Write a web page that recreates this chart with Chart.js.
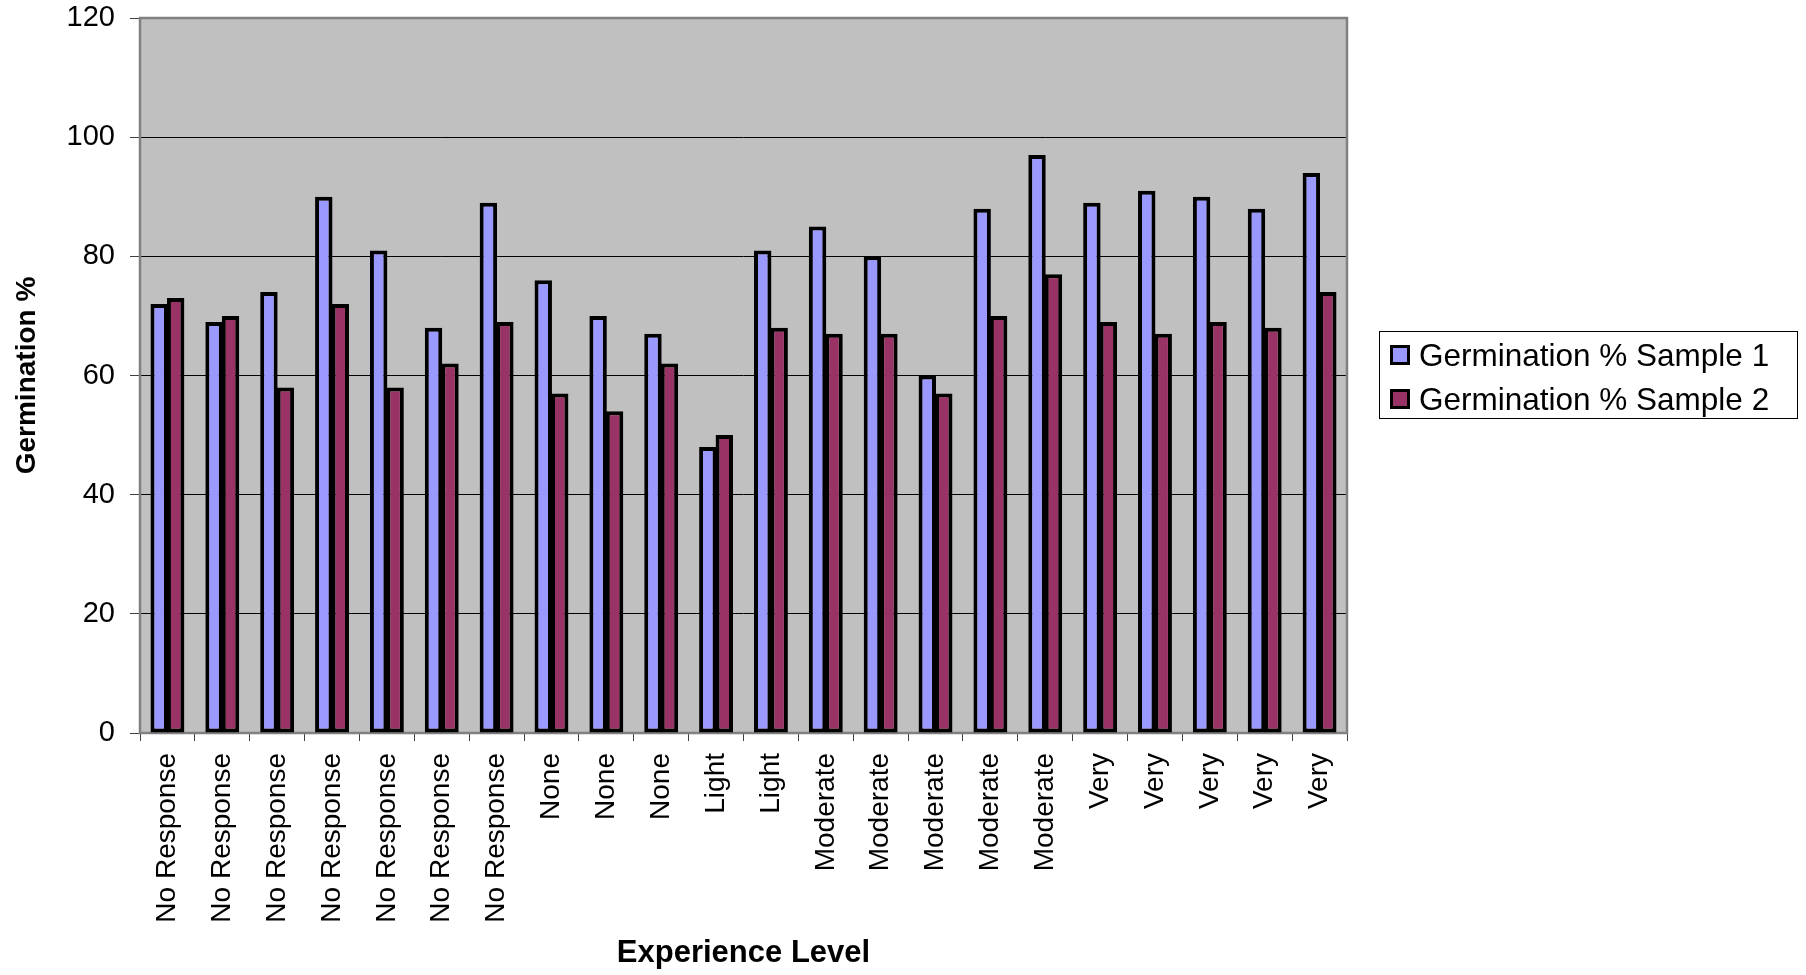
<!DOCTYPE html>
<html>
<head>
<meta charset="utf-8">
<script src="https://cdn.jsdelivr.net/npm/chart.js@4.4.1/dist/chart.umd.min.js"></script>
<style>
html,body{margin:0;padding:0;background:#fff;}
#wrap{position:relative;width:1806px;height:975px;}
#legend{position:absolute;left:1379px;top:331px;width:419px;height:88px;box-sizing:border-box;border:1px solid #000;background:#fff;font-family:"Liberation Sans",Arial,sans-serif;font-size:31.5px;color:#000;}
.row{position:absolute;left:10px;height:44px;display:flex;align-items:center;white-space:nowrap;}
.sw{width:14px;height:14px;border:3px solid #000;margin-right:9px;flex:none;}
</style>
</head>
<body>
<div id="wrap">
<canvas id="c" width="1806" height="975"></canvas>
<div id="legend"></div>
</div>
<script>
const categories = [
  'No Response','No Response','No Response','No Response','No Response','No Response','No Response',
  'None','None','None',
  'Light','Light',
  'Moderate','Moderate','Moderate','Moderate','Moderate',
  'Very','Very','Very','Very','Very'
];
const sample1 = [72, 69, 74, 90, 81, 68, 89, 76, 70, 67, 48, 81, 85, 80, 60, 88, 97, 89, 91, 90, 88, 94];
const sample2 = [73, 70, 58, 72, 58, 62, 69, 57, 54, 62, 50, 68, 67, 67, 57, 70, 77, 69, 67, 69, 68, 74];
const yTicks = [0, 20, 40, 60, 80, 100, 120];
const seriesNames = ['Germination % Sample 1', 'Germination % Sample 2'];
const seriesColors = ['#9999FF', '#993366'];
const xTitle = 'Experience Level';
const yTitle = 'Germination %';

Chart.defaults.font.family = '"Liberation Sans", Arial, sans-serif';
Chart.defaults.color = '#000';

const plotFrame = {
  id: 'plotFrame',
  beforeDraw(chart) {
    const {ctx, chartArea: a} = chart;
    ctx.save();
    ctx.fillStyle = '#C0C0C0';
    ctx.fillRect(a.left, a.top, a.right - a.left, a.bottom - a.top);
    ctx.restore();
  },
  beforeDatasetsDraw(chart) {
    const {ctx, chartArea: a} = chart;
    ctx.save();
    ctx.strokeStyle = '#808080';
    ctx.lineWidth = 2.5;
    ctx.strokeRect(a.left, a.top, a.right - a.left, a.bottom - a.top);
    ctx.restore();
  }
};

const series = [sample1, sample2];
new Chart(document.getElementById('c'), {
  type: 'bar',
  data: {
    labels: categories,
    datasets: series.map((d, i) => ({
      label: seriesNames[i],
      data: d,
      backgroundColor: seriesColors[i],
      borderColor: '#000',
      borderWidth: 4,
      borderSkipped: false,
      categoryPercentage: 0.6,
      barPercentage: 1.06
    }))
  },
  options: {
    responsive: false,
    animation: false,
    events: [],
    layout: {padding: {left: 0, top: 18, right: 459, bottom: 0}},
    plugins: {legend: {display: false}, tooltip: {enabled: false}},
    scales: {
      x: {
        grid: {offset: true, drawOnChartArea: false, color: '#404040', tickColor: '#404040', tickLength: 8, lineWidth: 1},
        border: {display: false},
        ticks: {autoSkip: false, maxRotation: 90, minRotation: 90, padding: 12, font: {size: 28}},
        title: {display: true, text: xTitle, font: {size: 31, weight: 'bold'}, padding: {top: 0, bottom: 3}},
        afterFit(s) { s.height = 242; }
      },
      y: {
        min: 0, max: 120,
        afterBuildTicks(s) { s.ticks = yTicks.map(v => ({value: v})); },
        grid: {
          color: c => (c.tick && (c.tick.value === 0 || c.tick.value === 120)) ? 'rgba(0,0,0,0)' : '#000',
          tickColor: '#404040', tickLength: 10, lineWidth: 1
        },
        border: {display: false},
        ticks: {padding: 15, font: {size: 29}},
        title: {display: true, text: yTitle, font: {size: 28, weight: 'bold'}, padding: {top: 10, bottom: 0}},
        afterFit(s) { s.width = 140; s.paddingTop = 0; s.paddingBottom = 0; }
      }
    }
  },
  plugins: [plotFrame]
});

const legend = document.getElementById('legend');
seriesNames.forEach((name, i) => {
  const row = document.createElement('div');
  row.className = 'row';
  row.style.top = (1 + i * 44) + 'px';
  const sw = document.createElement('div');
  sw.className = 'sw';
  sw.style.background = seriesColors[i];
  const t = document.createElement('span');
  t.textContent = name;
  row.appendChild(sw);
  row.appendChild(t);
  legend.appendChild(row);
});
</script>
</body>
</html>
